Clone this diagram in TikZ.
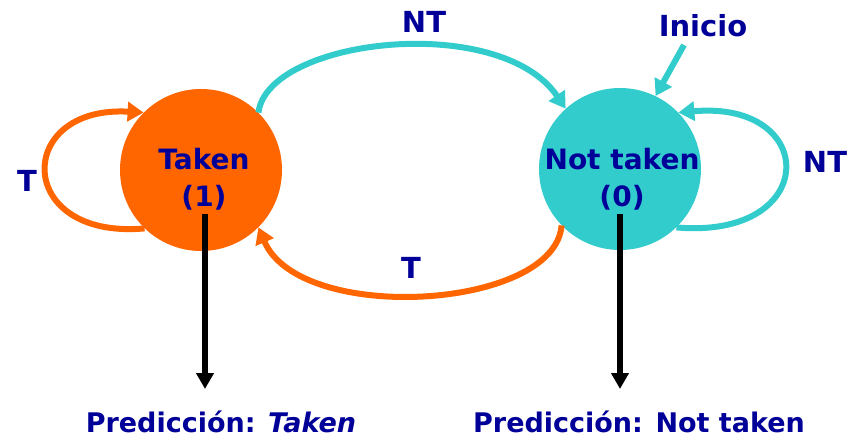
\documentclass[tikz,border=0pt]{standalone}
\usepackage{fontspec}
\setmainfont{DejaVu Sans}
\usetikzlibrary{arrows.meta}
\definecolor{stateorange}{HTML}{FF6600}
\definecolor{stateteal}{HTML}{33CCCC}
\definecolor{labelblue}{HTML}{000099}
\begin{document}
\begin{tikzpicture}[x=1pt,y=-1pt,
  state/.style={circle,minimum size=162pt,inner sep=0pt},
  lbl/.style={text=labelblue,font=\fontsize{29}{36}\selectfont\bfseries,inner sep=0pt,anchor=base},
  statelbl/.style={lbl,font=\fontsize{28}{34}\selectfont\bfseries},
  predlbl/.style={lbl,font=\fontsize{27}{32}\selectfont\bfseries},
  edge/.style={line width=6pt,-{Triangle[length=16pt,width=19pt]}},
  predarrow/.style={line width=5.5pt,-{Triangle[length=16pt,width=17pt]}}]
\useasboundingbox (0,0) rectangle (857,441);

% states
\node[state,fill=stateorange] (tk) at (201,170) {};
\node[state,fill=stateteal] (nt) at (620,169) {};
\node[statelbl] (tkl) at (204,170) {Taken};
\node[statelbl] (tkn) at (204,207) {(1)};
\node[statelbl] (ntl) at (622,170) {Not taken};
\node[statelbl] (ntn) at (622,207) {(0)};

% transitions
\draw[edge,stateteal] (tk.45) .. controls (268,38) and (500,12) .. (nt.132);
\draw[edge,stateorange] (nt.224) .. controls (555,310) and (300,325) .. (tk.315);
\draw[edge,stateorange] (tk.226) .. controls (14,240) and (14,105) .. (tk.135);
\draw[edge,stateteal] (nt.-46) .. controls (820,240) and (820,100) .. (nt.44);

% initial state marker
\node[lbl] (ini) at (703,37) {Inicio};
\coordinate (ini0) at (684,45);
\draw[edge,stateteal] (ini0) -- (nt.64);

% transition labels
\node[lbl] (lnt) at (424,33) {NT};
\node[lbl] (lt) at (411,278) {T};
\node[lbl] (lt2) at (27,191) {T};
\node[lbl] (lnt2) at (825,173) {NT};

% predictions
\coordinate (tkb) at (205,214);
\coordinate (tke) at (205,389);
\coordinate (ntb) at (620,214);
\coordinate (nte) at (620,389);
\draw[predarrow] (tkb) -- (tke);
\draw[predarrow] (ntb) -- (nte);
\node[predlbl] (pt) at (221,432) {Predicción: \textit{Taken}};
\node[predlbl] (pn) at (639,432) {Predicción: Not taken};
\end{tikzpicture}
\end{document}
